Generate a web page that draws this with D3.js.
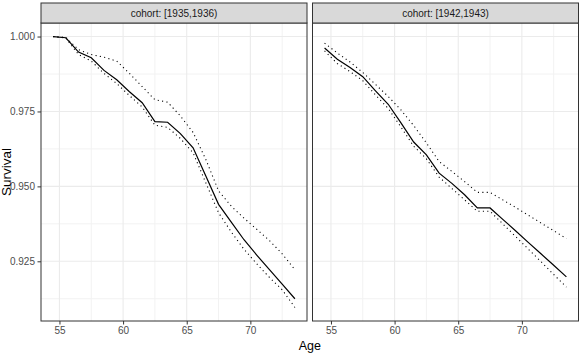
<!DOCTYPE html>
<html>
<head>
<meta charset="utf-8">
<script src="https://cdn.jsdelivr.net/npm/d3@7"></script>
<style>
body { margin: 0; background: #fff; }
svg { display: block; font-family: "Liberation Sans", Arial, sans-serif; }
</style>
</head>
<body>
<svg id="chart" width="582" height="356"></svg>
<script>
// values
const ages = [54.5, 55.5, 56.5, 57.5, 58.5, 59.5, 60.5, 61.5, 62.5, 63.5,
	64.5, 65.5, 66.5, 67.5, 68.5, 69.5, 70.5, 71.5, 72.5, 73.5];

const cohorts = ['cohort: [1935,1936)', 'cohort: [1942,1943)'];

const surv1935 = [1.0000, 0.9996, 0.9948, 0.9929, 0.9887, 0.9856, 0.9816, 0.9779, 0.9716, 0.9714,
	0.9676, 0.9629, 0.9535, 0.9440, 0.9381, 0.9322, 0.9271, 0.9222, 0.9174, 0.9125];
const upper1935 = [1.0000, 0.9997, 0.9956, 0.9940, 0.9931, 0.9918, 0.9877, 0.9833, 0.9789, 0.9781,
	0.9735, 0.9680, 0.9590, 0.9485, 0.9434, 0.9394, 0.9357, 0.9319, 0.9275, 0.9222];
const lower1935 = [1.0000, 0.9995, 0.9940, 0.9918, 0.9877, 0.9843, 0.9803, 0.9765, 0.9704, 0.9697,
	0.9660, 0.9612, 0.9512, 0.9412, 0.9348, 0.9290, 0.9242, 0.9196, 0.9155, 0.9096];

const surv1942 = [0.9962, 0.9924, 0.9897, 0.9866, 0.9819, 0.9774, 0.9712, 0.9648, 0.9605, 0.9544,
	0.9510, 0.9472, 0.9428, 0.9428, 0.9390, 0.9352, 0.9313, 0.9275, 0.9237, 0.9198];
const upper1942 = [0.9978, 0.9945, 0.9915, 0.9880, 0.9840, 0.9800, 0.9755, 0.9703, 0.9645, 0.9583,
	0.9550, 0.9516, 0.9480, 0.9480, 0.9455, 0.9430, 0.9404, 0.9378, 0.9352, 0.9326];
const lower1942 = [0.9952, 0.9910, 0.9883, 0.9853, 0.9805, 0.9760, 0.9698, 0.9634, 0.9592, 0.9531,
	0.9493, 0.9455, 0.9417, 0.9417, 0.9375, 0.9333, 0.9291, 0.9249, 0.9206, 0.9164];

const xTicks = [55, 60, 65, 70];
const yTicks = [0.925, 0.950, 0.975, 1.000];

const panels = [
	{ title: cohorts[0], surv: surv1935, upper: upper1935, lower: lower1935, left: 41 },
	{ title: cohorts[1], surv: surv1942, upper: upper1942, lower: lower1942, left: 312.5 }
];

const panelWidth = 266,
	panelTop = 23,
	panelBottom = 321,
	stripTop = 3;

// ggplot style 5% expansion of the data range
const allVals = [].concat(surv1935, upper1935, lower1935, surv1942, upper1942, lower1942);
const yMin = d3.min(allVals), yMax = d3.max(allVals);
const yPad = (yMax - yMin) * 0.05;
const xMin = d3.min(ages), xMax = d3.max(ages);
const xPad = (xMax - xMin) * 0.05;

const y = d3.scaleLinear()
	.domain([yMin - yPad, yMax + yPad])
	.range([panelBottom, panelTop]);

const yMinor = yTicks.map(t => t - 0.0125).filter(t => t > y.domain()[0]);
const xMinor = xTicks.map(t => t + 2.5).filter(t => t < xMax + xPad);

const chart = d3.select('#chart');

panels.forEach((p, i) => {
	const x = d3.scaleLinear()
		.domain([xMin - xPad, xMax + xPad])
		.range([p.left, p.left + panelWidth]);

	const g = chart.append('g');

	g.append('rect')
		.attr('x', p.left).attr('y', panelTop)
		.attr('width', panelWidth).attr('height', panelBottom - panelTop)
		.attr('fill', '#fff');

	// grid
	g.selectAll('.ygridminor').data(yMinor).enter().append('line')
		.attr('x1', p.left).attr('x2', p.left + panelWidth)
		.attr('y1', d => y(d)).attr('y2', d => y(d))
		.attr('stroke', '#f2f2f2').attr('stroke-width', 1);
	g.selectAll('.xgridminor').data(xMinor).enter().append('line')
		.attr('y1', panelTop).attr('y2', panelBottom)
		.attr('x1', d => x(d)).attr('x2', d => x(d))
		.attr('stroke', '#f2f2f2').attr('stroke-width', 1);
	g.selectAll('.ygrid').data(yTicks).enter().append('line')
		.attr('x1', p.left).attr('x2', p.left + panelWidth)
		.attr('y1', d => y(d)).attr('y2', d => y(d))
		.attr('stroke', '#ebebeb').attr('stroke-width', 1.1);
	g.selectAll('.xgrid').data(xTicks).enter().append('line')
		.attr('y1', panelTop).attr('y2', panelBottom)
		.attr('x1', d => x(d)).attr('x2', d => x(d))
		.attr('stroke', '#ebebeb').attr('stroke-width', 1.1);

	// lines
	const line = vals => d3.line()
		.x((d, j) => x(ages[j]))
		.y(d => y(d))(vals);

	g.append('path').attr('d', line(p.upper))
		.attr('fill', 'none').attr('stroke', '#000')
		.attr('stroke-width', 1.1).attr('stroke-dasharray', '1.1,3.3');
	g.append('path').attr('d', line(p.lower))
		.attr('fill', 'none').attr('stroke', '#000')
		.attr('stroke-width', 1.1).attr('stroke-dasharray', '1.1,3.3');
	g.append('path').attr('d', line(p.surv))
		.attr('fill', 'none').attr('stroke', '#000')
		.attr('stroke-width', 1.2);

	// border
	g.append('rect')
		.attr('x', p.left).attr('y', panelTop)
		.attr('width', panelWidth).attr('height', panelBottom - panelTop)
		.attr('fill', 'none').attr('stroke', '#333').attr('stroke-width', 1);

	// strip
	g.append('rect')
		.attr('x', p.left).attr('y', stripTop)
		.attr('width', panelWidth).attr('height', panelTop - stripTop)
		.attr('fill', '#d9d9d9').attr('stroke', '#333').attr('stroke-width', 1);
	g.append('text')
		.attr('x', p.left + panelWidth / 2).attr('y', (stripTop + panelTop) / 2 + 3.5)
		.attr('text-anchor', 'middle')
		.attr('font-size', 10).attr('fill', '#1a1a1a')
		.text(p.title);

	// axes
	const xAxis = d3.axisBottom(x).tickValues(xTicks).tickSize(3.5).tickPadding(2.5);
	const ax = g.append('g')
		.attr('transform', `translate(0,${panelBottom})`)
		.call(xAxis);
	ax.select('.domain').remove();
	ax.selectAll('line').attr('stroke', '#333');
	ax.selectAll('text').attr('fill', '#4d4d4d').attr('font-size', 10)
		.attr('font-family', '"Liberation Sans", Arial, sans-serif');

	if (i === 0) {
		const yAxis = d3.axisLeft(y).tickValues(yTicks).tickFormat(d3.format('.3f'))
			.tickSize(3.5).tickPadding(2.5);
		const ay = g.append('g')
			.attr('transform', `translate(${p.left},0)`)
			.call(yAxis);
		ay.select('.domain').remove();
		ay.selectAll('line').attr('stroke', '#333');
		ay.selectAll('text').attr('fill', '#4d4d4d').attr('font-size', 10)
			.attr('font-family', '"Liberation Sans", Arial, sans-serif');
	}
});

// axis titles
chart.append('text')
	.attr('x', (41 + 312.5 + panelWidth) / 2).attr('y', 350)
	.attr('text-anchor', 'middle')
	.attr('font-size', 12.5).attr('fill', '#000')
	.text('Age');

chart.append('text')
	.attr('transform', `translate(11,${(panelTop + panelBottom) / 2}) rotate(-90)`)
	.attr('text-anchor', 'middle')
	.attr('font-size', 13.5).attr('fill', '#000')
	.text('Survival');
</script>
</body>
</html>
